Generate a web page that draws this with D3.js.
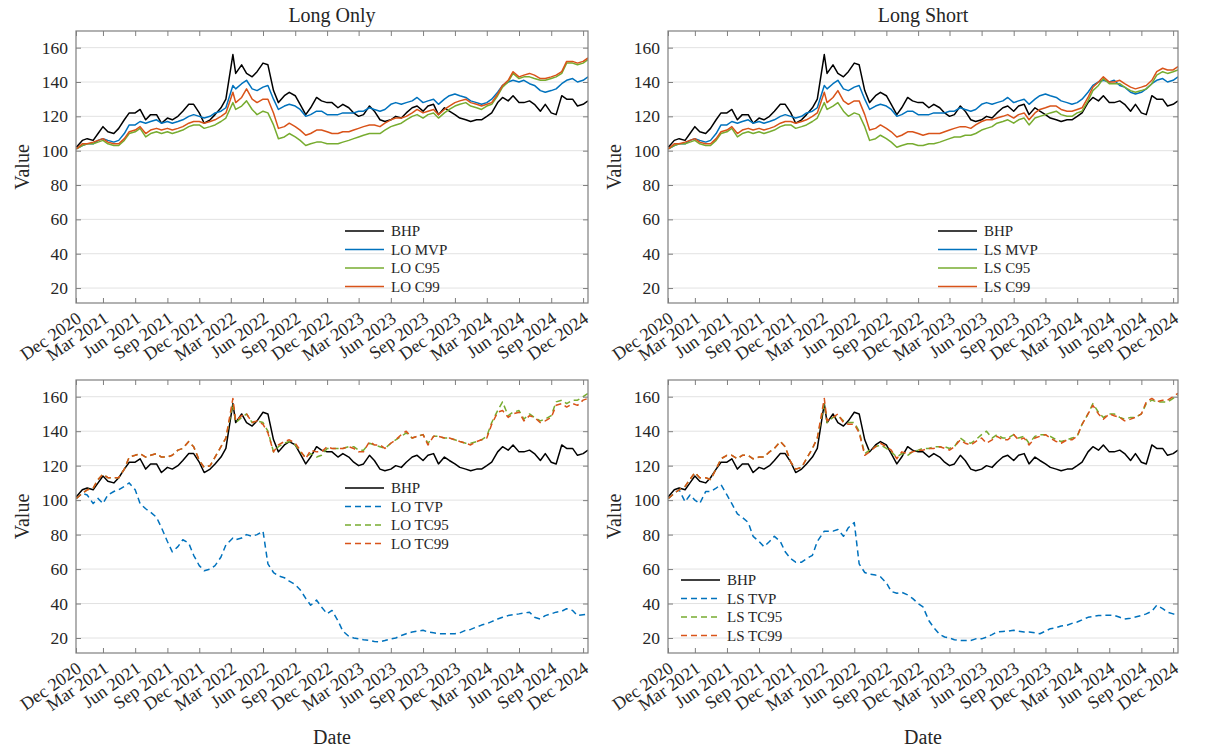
<!DOCTYPE html>
<html>
<head>
<meta charset="utf-8">
<script src="https://cdn.jsdelivr.net/npm/d3@7"></script>
<style>
body { margin: 0; background: #fff; }
svg text { font-family: "Liberation Serif", "Times New Roman", serif; fill: #262626; }
</style>
</head>
<body>
<svg id="chart" width="1227" height="751"></svg>
<script>
// sample dates (1st and 15th of each month, Mar 2022 point moved to the spike)
var dates = [
 "2020-12-15",
 "2021-01-01","2021-01-15","2021-02-01","2021-02-15","2021-03-01","2021-03-15","2021-04-01","2021-04-15",
 "2021-05-01","2021-05-15","2021-06-01","2021-06-15","2021-07-01","2021-07-15","2021-08-01","2021-08-15",
 "2021-09-01","2021-09-15","2021-10-01","2021-10-15","2021-11-01","2021-11-15","2021-12-01","2021-12-15",
 "2022-01-01","2022-01-15","2022-02-01","2022-02-15","2022-03-07","2022-03-15","2022-04-01","2022-04-15",
 "2022-05-01","2022-05-15","2022-06-01","2022-06-15","2022-07-01","2022-07-15","2022-08-01","2022-08-15",
 "2022-09-01","2022-09-15","2022-10-01","2022-10-15","2022-11-01","2022-11-15","2022-12-01","2022-12-15",
 "2023-01-01","2023-01-15","2023-02-01","2023-02-15","2023-03-01","2023-03-15","2023-04-01","2023-04-15",
 "2023-05-01","2023-05-15","2023-06-01","2023-06-15","2023-07-01","2023-07-15","2023-08-01","2023-08-15",
 "2023-09-01","2023-09-15","2023-10-01","2023-10-15","2023-11-01","2023-11-15","2023-12-01","2023-12-15",
 "2024-01-01","2024-01-15","2024-02-01","2024-02-15","2024-03-01","2024-03-15","2024-04-01","2024-04-15",
 "2024-05-01","2024-05-15","2024-06-01","2024-06-15","2024-07-01","2024-07-15","2024-08-01","2024-08-15",
 "2024-09-01","2024-09-15","2024-10-01","2024-10-15","2024-11-01","2024-11-15","2024-12-01","2024-12-15"
];

var tickLabels = ["Dec 2020","Mar 2021","Jun 2021","Sep 2021","Dec 2021","Mar 2022","Jun 2022","Sep 2022",
  "Dec 2022","Mar 2023","Jun 2023","Sep 2023","Dec 2023","Mar 2024","Jun 2024","Sep 2024","Dec 2024"];
var yTicks = [20, 40, 60, 80, 100, 120, 140, 160];

var bhp = [102,106,107,106,110,114,111,110,113,118, 122,122,124,118,121,121,116,119,118,120,
  123,127,127,122,116,118,121,125,130,156, 145,150,145,143,146,151,150,135,128,132,
  134,132,127,121,125,131,129,128,128,125, 127,125,122,120,121,126,123,118,117,118,
  120,119,122,125,126,123,126,127,121,125, 123,121,119,118,117,118,118,120,122,128,
  131,129,132,128,128,129,127,123,127,122, 121,132,130,130,126,127,129];

// long only
var loMvp = [101,103,104,104,106,107,106,105,106,110, 115,115,117,116,117,118,116,117,116,117,
  118,120,121,120,119,120,122,123,125,138, 136,139,141,136,135,137,138,130,124,126,
  127,126,124,120,121,123,123,121,121,121, 122,122,122,123,123,125,124,123,124,127,
  128,127,128,129,131,128,129,130,127,130, 132,133,132,131,129,128,127,128,130,134,
  138,140,141,140,141,139,138,135,134,135, 136,139,141,142,140,141,143];
var loC95 = [101,103,104,104,105,106,104,103,103,106, 110,111,113,108,110,111,110,111,110,111,
  112,114,115,115,113,114,115,117,119,128, 124,126,129,124,121,123,122,115,107,108,
  110,108,106,103,104,105,105,104,104,104, 105,106,107,108,109,110,110,110,112,114,
  115,116,118,120,121,119,121,122,119,122, 124,126,127,128,126,125,124,126,127,132,
  137,140,145,142,143,143,142,141,141,142, 143,145,151,151,150,151,153];
var loC99 = [101,104,104,105,106,107,105,104,104,107, 111,112,114,110,112,113,112,113,112,113,
  114,116,117,117,116,117,118,120,122,134, 128,131,136,130,128,130,130,122,113,114,
  116,114,112,109,110,112,112,111,110,110, 111,111,112,113,114,115,115,114,116,118,
  119,119,120,122,124,122,123,124,121,124, 126,128,129,130,128,127,126,127,128,133,
  138,141,146,143,144,145,144,142,142,143, 144,146,152,152,151,152,154];

// long short
var lsMvp = [101,103,104,104,106,107,106,105,106,110, 115,115,117,116,117,118,116,117,116,117,
  118,120,121,120,119,120,122,123,125,138, 136,139,141,136,135,137,138,130,124,126,
  127,126,124,120,121,123,123,121,121,121, 122,122,122,123,123,125,124,123,124,127,
  128,127,128,129,131,128,129,130,127,130, 132,133,132,131,129,128,127,128,130,134,
  138,140,141,140,141,138,137,134,133,134, 136,139,141,142,140,141,143];
var lsC95 = [101,103,104,104,105,106,104,103,103,106, 110,111,113,108,110,111,110,111,110,111,
  112,114,115,115,113,114,115,117,119,128, 124,126,128,123,120,122,121,114,106,107,
  109,107,105,102,103,104,104,103,103,104, 104,105,106,107,108,108,109,109,110,112,
  113,114,116,117,118,116,118,119,115,119, 120,121,122,123,121,120,120,122,123,129,
  135,138,142,139,139,139,137,135,134,135, 136,139,144,146,145,146,147];
var lsC99 = [101,104,104,105,106,107,105,104,104,107, 111,112,114,110,112,113,112,113,112,113,
  114,116,117,117,116,117,118,120,122,134, 128,131,135,129,127,129,129,121,112,113,
  115,113,111,108,109,111,111,110,109,110, 110,110,111,112,113,114,114,113,115,117,
  118,118,119,120,121,119,121,122,118,122, 124,125,126,126,124,123,123,124,125,131,
  137,140,143,140,140,141,139,137,136,137, 138,141,146,148,147,147,149];

// long only, target
var loTvp = [101,104,103,98,101,98,103,105,106,108, 110,106,98,95,93,90,84,76,70,73,
  77,75,68,62,59,60,62,67,74,78, 77,78,80,79,80,82,63,58,56,55,
  53,51,48,43,39,42,38,34,36,30, 24,21,20,19.6,19,18.6,18,17.8,18.5,19.5,
  20,21.5,22.5,23.5,24,24.5,23.5,23,22.5,22.5, 22.5,22.5,23,24.5,25,26.4,27.5,28.3,29.5,31,
  32,33,33.5,34,34.5,35,32,31,33,34, 35,35.5,37,36,33,33.5,34];
var loTc95 = [101,104,106,107,112,115,113,113,113,118, 125,126,127,125,126,127,125,125,126,129,
  130,134,131,123,119,120,125,131,136,156, 145,148,150,145,146,145,140,128,131,133,
  134,132,128,125,127,125,126,130,130,130, 130,131,131,129,129,133,132,131,130,133,
  135,137,139,136,137,138,133,137,137,136, 136,135,134,133,133,134,135,137,145,152,
  157,149,151,152,147,150,148,146,147,149, 157,158,156,158,158,160,162];
var loTc99 = [101,104,106,107,112,115,113,113,113,118, 125,126,127,125,126,127,125,125,126,129,
  130,134,131,123,119,120,125,131,136,159, 146,149,150,145,146,144,139,128,132,134,
  135,133,129,124,129,128,128,131,130,130, 130,131,130,128,128,134,132,132,130,133,
  135,138,140,136,137,138,132,137,137,136, 136,135,134,133,132,134,135,136,144,151,
  152,148,150,151,146,149,148,145,146,148, 155,156,154,156,155,158,159];

// long short, target
var lsTvp = [101,104,106,99,103,100,98,105,105,107, 109,103,98,92,90,87,79,76,73,76,
  79,76,70,66,64,64,66,68,76,82, 82,82,83,79,84,87,63,58,57,56.5,
  55.5,52,47,46,46.5,45,43,40,38,30, 26,22,20.6,20,19,18.6,18.5,18.6,19.5,19.5,
  20.5,22,23.5,23.8,24,24.5,24,23.5,23.5,23, 22.5,24,25.4,26,27,27.4,28.5,29.3,30.5,32,
  32.5,33,33.2,33.2,33.2,32,31,31.5,32.2,33, 34,35.5,39,37,35,34,34];
var lsTc95 = [101,104,106,108,112,116,113,113,112,118, 124,126,126,124,126,126,124,125,125,128,
  130,134,131,122,118,119,124,130,136,156, 145,148,149,146,145,145,140,127,129,131,
  132,130,128,125,127,126,128,129,130,130, 131,131,131,130,131,136,134,133,135,138,
  140,136,138,136,136,138,136,137,133,137, 138,138,137,135,134,135,136,137,144,150,
  156,151,148,150,150,148,147,148,148,150, 156,158,157,157,157,159,161];
var lsTc99 = [101,104,106,108,112,116,113,113,112,118, 124,126,126,124,126,126,124,125,125,128,
  130,134,131,122,118,119,124,130,136,159, 146,148,150,145,144,144,139,126,128,131,
  133,131,129,124,128,127,128,129,129,130, 130,131,130,129,131,135,133,132,134,136,
  133,135,137,135,135,138,135,136,132,136, 137,138,136,134,133,135,135,137,144,150,
  155,150,147,150,149,148,146,147,148,150, 157,159,157,158,158,160,162];

var black = '#000000', blue = '#0072BD', green = '#77AC30', orange = '#D95319';
var frameColor = '#7f7f7f', gridColor = '#e2e2e2';

var panels = [
  {title: 'Long Only', left: 76, top: 31, w: 512, h: 272, xlabel: false, legend: [269, 200], series: [
    {name: 'BHP', values: bhp, color: black},
    {name: 'LO MVP', values: loMvp, color: blue},
    {name: 'LO C95', values: loC95, color: green},
    {name: 'LO C99', values: loC99, color: orange}]},
  {title: 'Long Short', left: 668, top: 31, w: 510, h: 272, xlabel: false, legend: [270, 200], series: [
    {name: 'BHP', values: bhp, color: black},
    {name: 'LS MVP', values: lsMvp, color: blue},
    {name: 'LS C95', values: lsC95, color: green},
    {name: 'LS C99', values: lsC99, color: orange}]},
  {title: '', left: 76, top: 380, w: 512, h: 273, xlabel: true, legend: [269, 108], series: [
    {name: 'BHP', values: bhp, color: black},
    {name: 'LO TVP', values: loTvp, color: blue, dash: true},
    {name: 'LO TC95', values: loTc95, color: green, dash: true},
    {name: 'LO TC99', values: loTc99, color: orange, dash: true}]},
  {title: '', left: 668, top: 380, w: 510, h: 273, xlabel: true, legend: [13, 200], series: [
    {name: 'BHP', values: bhp, color: black},
    {name: 'LS TVP', values: lsTvp, color: blue, dash: true},
    {name: 'LS TC95', values: lsTc95, color: green, dash: true},
    {name: 'LS TC99', values: lsTc99, color: orange, dash: true}]}
];

var parse = d3.timeParse('%Y-%m-%d');
var parseTick = d3.timeParse('%b %Y');
var xDates = dates.map(parse);
var domainX = [parse('2020-12-14'), parse('2024-12-15')];
// first tick sits on the left limit
var tickDates = tickLabels.map(function(t){
  var d = parseTick(t);
  return d < domainX[0] ? domainX[0] : d;
});

var svg = d3.select('#chart');

panels.forEach(function(p){
  var g = svg.append('g').attr('transform', 'translate(' + p.left + ',' + p.top + ')');
  var x = d3.scaleTime().domain(domainX).range([0, p.w]);
  var y = d3.scaleLinear().domain([11.3, 169.7]).range([p.h, 0]);

  //grid
  g.append('g').selectAll('line').data(yTicks).enter().append('line')
    .attr('x1', 0).attr('x2', p.w)
    .attr('y1', function(d){ return y(d); }).attr('y2', function(d){ return y(d); })
    .attr('stroke', gridColor).attr('stroke-width', 1);

  //series
  var clipId = 'clip' + p.left + '_' + p.top;
  g.append('clipPath').attr('id', clipId).append('rect').attr('width', p.w).attr('height', p.h);
  var line = d3.line().x(function(d, i){ return x(xDates[i]); }).y(function(d){ return y(d); });
  p.series.forEach(function(s){
    g.append('path').attr('d', line(s.values))
      .attr('clip-path', 'url(#' + clipId + ')')
      .attr('fill', 'none')
      .attr('stroke', s.color)
      .attr('stroke-width', 1.5)
      .attr('stroke-linejoin', 'round')
      .attr('stroke-dasharray', s.dash ? '6,4' : null);
  });

  //tick marks pointing inward, labels drawn as own text
  var xb = g.append('g').attr('transform', 'translate(0,' + p.h + ')')
    .call(d3.axisBottom(x).tickValues(tickDates).tickSizeInner(-5).tickSizeOuter(0).tickFormat(''));
  var xt = g.append('g').call(d3.axisTop(x).tickValues(tickDates).tickSizeInner(-5).tickSizeOuter(0).tickFormat(''));
  var yl = g.append('g').call(d3.axisLeft(y).tickValues(yTicks).tickSizeInner(-5).tickSizeOuter(0).tickFormat(''));
  var yr = g.append('g').attr('transform', 'translate(' + p.w + ',0)')
    .call(d3.axisRight(y).tickValues(yTicks).tickSizeInner(-5).tickSizeOuter(0).tickFormat(''));
  [xb, xt, yl, yr].forEach(function(a){
    a.select('.domain').remove();
    a.selectAll('text').remove();
    a.selectAll('line').attr('stroke', frameColor);
  });

  g.append('g').selectAll('text').data(tickDates).enter().append('text')
    .attr('transform', function(d){ return 'translate(' + (x(d) + 3) + ',' + (p.h + 13) + ') rotate(-35)'; })
    .attr('text-anchor', 'end').attr('dy', '0.35em').attr('font-size', 18)
    .text(function(d, i){ return tickLabels[i]; });
  g.append('g').selectAll('text').data(yTicks).enter().append('text')
    .attr('x', -8).attr('y', function(d){ return y(d); })
    .attr('text-anchor', 'end').attr('dy', '0.35em').attr('font-size', 17.5)
    .text(function(d){ return d; });

  //frame
  g.append('rect').attr('width', p.w).attr('height', p.h)
    .attr('fill', 'none').attr('stroke', frameColor).attr('stroke-width', 1.2);

  //labels
  g.append('text').attr('transform', 'translate(-47,' + (p.h / 2) + ') rotate(-90)')
    .attr('text-anchor', 'middle').attr('font-size', 20).text('Value');
  if (p.title) {
    g.append('text').attr('x', p.w / 2).attr('y', -9)
      .attr('text-anchor', 'middle').attr('font-size', 20).text(p.title);
  }
  if (p.xlabel) {
    g.append('text').attr('x', p.w / 2).attr('y', p.h + 91)
      .attr('text-anchor', 'middle').attr('font-size', 20).text('Date');
  }

  //legend, no box
  var lg = g.append('g').attr('transform', 'translate(' + p.legend[0] + ',' + p.legend[1] + ')');
  p.series.forEach(function(s, i){
    var row = lg.append('g').attr('transform', 'translate(0,' + (i * 18.5) + ')');
    row.append('line').attr('x1', 0).attr('x2', 39).attr('y1', 0).attr('y2', 0)
      .attr('stroke', s.color).attr('stroke-width', 1.6)
      .attr('stroke-dasharray', s.dash ? '6,4' : null);
    row.append('text').attr('x', 46).attr('y', 0).attr('dy', '0.35em')
      .attr('font-size', 15).text(s.name);
  });
});
</script>
</body>
</html>
